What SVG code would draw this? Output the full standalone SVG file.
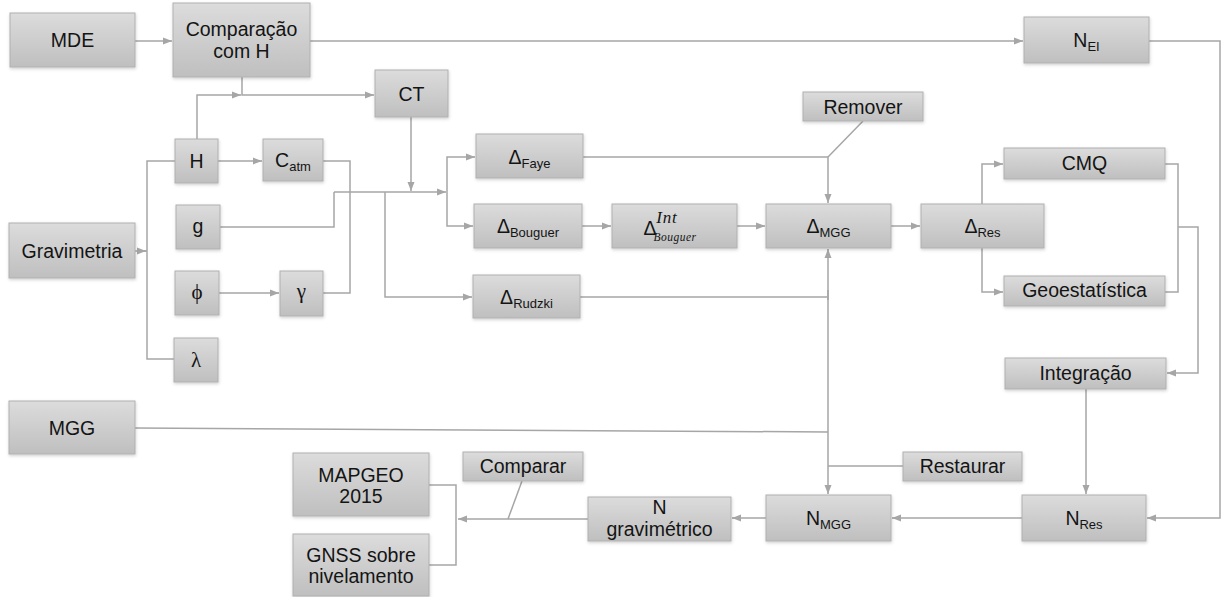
<svg xmlns="http://www.w3.org/2000/svg" width="1225" height="597" viewBox="0 0 1225 597">
<defs>
<linearGradient id="bg" x1="0" y1="0" x2="0" y2="1">
<stop offset="0" stop-color="#dcdcdc"/>
<stop offset="1" stop-color="#bfbfbf"/>
</linearGradient>
<filter id="sh" x="-10%" y="-20%" width="120%" height="150%">
<feDropShadow dx="0.5" dy="1.5" stdDeviation="1.5" flood-color="#000" flood-opacity="0.18"/>
</filter>
<marker id="ar" markerUnits="userSpaceOnUse" markerWidth="10" markerHeight="8" refX="9" refY="4" orient="auto">
<path d="M0,0.5 L9,4 L0,7.5 z" fill="#a6a6a6"/>
</marker>
</defs>
<style>
rect.b{fill:url(#bg);stroke:#b0b0b0;stroke-width:1;filter:url(#sh)}
text{font-family:"Liberation Sans",Arial,sans-serif;font-size:19.5px;fill:#141414;text-anchor:middle}
.sub{font-size:13px}
.gr{font-family:"Liberation Serif","DejaVu Serif",serif;font-size:21px}
.it{font-family:"Liberation Serif","DejaVu Serif",serif;font-style:italic}
#conn path{fill:none;stroke:#a6a6a6;stroke-width:1.5}
</style>
<g id="conn">
<path d="M135,41 H172" marker-end="url(#ar)"/>
<path d="M310,41 H1023" marker-end="url(#ar)"/>
<path d="M1149,41 H1220 V518 H1147" marker-end="url(#ar)"/>
<path d="M197,139 V95 H241" marker-end="url(#ar)"/>
<path d="M242,77 V95 H374" marker-end="url(#ar)"/>
<path d="M411,117 V191" marker-end="url(#ar)"/>
<path d="M135,251 H147"/>
<path d="M137,251 H146" marker-end="url(#ar)"/>
<path d="M175,161 H147 V359 H174"/>
<path d="M218,161 H262" marker-end="url(#ar)"/>
<path d="M219,293 H279" marker-end="url(#ar)"/>
<path d="M323,161 H350 V293 H323"/>
<path d="M220,227 H334 V192"/>
<path d="M334,192 H446" marker-end="url(#ar)"/>
<path d="M447,192 V157 H475" marker-end="url(#ar)"/>
<path d="M447,192 V226 H473" marker-end="url(#ar)"/>
<path d="M385,192 V297 H472" marker-end="url(#ar)"/>
<path d="M582,226 H611" marker-end="url(#ar)"/>
<path d="M737,226 H765" marker-end="url(#ar)"/>
<path d="M583,157 H828"/>
<path d="M863,121 L828,157 V203" marker-end="url(#ar)"/>
<path d="M580,297 H828"/>
<path d="M135,428 L828,432"/>
<path d="M903,466 H828"/>
<path d="M828,300 V249" marker-end="url(#ar)"/>
<path d="M828,290 V494" marker-end="url(#ar)"/>
<path d="M891,226 H920" marker-end="url(#ar)"/>
<path d="M982,204 V164 H1003" marker-end="url(#ar)"/>
<path d="M982,248 V292 H1003" marker-end="url(#ar)"/>
<path d="M1165,164 H1178 V292 H1165"/>
<path d="M1178,227 H1198 V373 H1167" marker-end="url(#ar)"/>
<path d="M1086,389 V494" marker-end="url(#ar)"/>
<path d="M1022,518 H892" marker-end="url(#ar)"/>
<path d="M766,518 H732" marker-end="url(#ar)"/>
<path d="M588,519 H458" marker-end="url(#ar)"/>
<path d="M522,481 L508,519"/>
<path d="M429,485 H456 V565 H429"/>
</g>
<g id="n-mde"><rect class="b" x="10" y="13" width="125" height="54"/><text x="72.5" y="47">MDE</text></g>
<g id="n-comp"><rect class="b" x="173" y="3" width="137" height="74"/><text x="241.5" y="36">Comparação</text><text x="241.5" y="58">com H</text></g>
<g id="n-ct"><rect class="b" x="375" y="70" width="73" height="47"/><text x="411.5" y="101">CT</text></g>
<g id="n-h"><rect class="b" x="175" y="139" width="43" height="44"/><text x="196.5" y="168">H</text></g>
<g id="n-catm"><rect class="b" x="263" y="139" width="60" height="42"/><text x="293" y="167">C<tspan class="sub" dy="4">atm</tspan></text></g>
<g id="n-g"><rect class="b" x="176" y="205" width="44" height="44"/><text x="198" y="233">g</text></g>
<g id="n-phi"><rect class="b" x="175" y="271" width="44" height="44"/><text class="gr" x="197" y="299">ϕ</text></g>
<g id="n-gamma"><rect class="b" x="280" y="271" width="43" height="45"/><text class="gr" x="301.5" y="298">γ</text></g>
<g id="n-lambda"><rect class="b" x="174" y="338" width="44" height="44"/><text class="gr" x="196" y="367">λ</text></g>
<g id="n-grav"><rect class="b" x="9" y="223" width="126" height="55"/><text x="72" y="258">Gravimetria</text></g>
<g id="n-mgg"><rect class="b" x="9" y="401" width="126" height="53"/><text x="72" y="435">MGG</text></g>
<g id="n-faye"><rect class="b" x="476" y="134" width="107" height="44"/><text x="529.5" y="164">Δ<tspan class="sub" dy="4">Faye</tspan></text></g>
<g id="n-bouguer"><rect class="b" x="474" y="204" width="108" height="44"/><text x="528" y="233">Δ<tspan class="sub" dy="4">Bouguer</tspan></text></g>
<g id="n-int"><rect class="b" x="612" y="204" width="125" height="44"/><text x="650" y="235">Δ</text><text class="it" x="667" y="223" style="font-size:17px;letter-spacing:0.8px">Int</text><text class="it" x="675" y="241" style="font-size:11.5px;letter-spacing:0.5px">Bouguer</text></g>
<g id="n-dmgg"><rect class="b" x="766" y="204" width="125" height="44"/><text x="828.5" y="233">Δ<tspan class="sub" dy="4">MGG</tspan></text></g>
<g id="n-rudzki"><rect class="b" x="473" y="275" width="107" height="43"/><text x="526.5" y="304">Δ<tspan class="sub" dy="4">Rudzki</tspan></text></g>
<g id="n-res"><rect class="b" x="921" y="204" width="123" height="44"/><text x="982.5" y="233">Δ<tspan class="sub" dy="4">Res</tspan></text></g>
<g id="n-remover"><rect class="b" x="803" y="92" width="120" height="29"/><text x="863" y="114">Remover</text></g>
<g id="n-nei"><rect class="b" x="1024" y="17" width="125" height="46"/><text x="1086.5" y="47">N<tspan class="sub" dy="4">EI</tspan></text></g>
<g id="n-cmq"><rect class="b" x="1004" y="148" width="161" height="31"/><text x="1084.5" y="170">CMQ</text></g>
<g id="n-geo"><rect class="b" x="1004" y="276" width="161" height="30"/><text x="1084.5" y="297">Geoestatística</text></g>
<g id="n-integ"><rect class="b" x="1005" y="358" width="161" height="31"/><text x="1085.5" y="380">Integração</text></g>
<g id="n-nres"><rect class="b" x="1022" y="495" width="124" height="46"/><text x="1084" y="525">N<tspan class="sub" dy="4">Res</tspan></text></g>
<g id="n-nmgg"><rect class="b" x="766" y="495" width="125" height="46"/><text x="828.5" y="525">N<tspan class="sub" dy="4">MGG</tspan></text></g>
<g id="n-restaurar"><rect class="b" x="903" y="452" width="119" height="29"/><text x="962.5" y="473">Restaurar</text></g>
<g id="n-comparar"><rect class="b" x="463" y="452" width="120" height="29"/><text x="523" y="473">Comparar</text></g>
<g id="n-ngrav"><rect class="b" x="588" y="497" width="143" height="44"/><text x="659.5" y="514">N</text><text x="659.5" y="536">gravimétrico</text></g>
<g id="n-mapgeo"><rect class="b" x="293" y="453" width="136" height="63"/><text x="361" y="482">MAPGEO</text><text x="361" y="503">2015</text></g>
<g id="n-gnss"><rect class="b" x="293" y="534" width="136" height="62"/><text x="361" y="562">GNSS sobre</text><text x="361" y="583">nivelamento</text></g>
</svg>
